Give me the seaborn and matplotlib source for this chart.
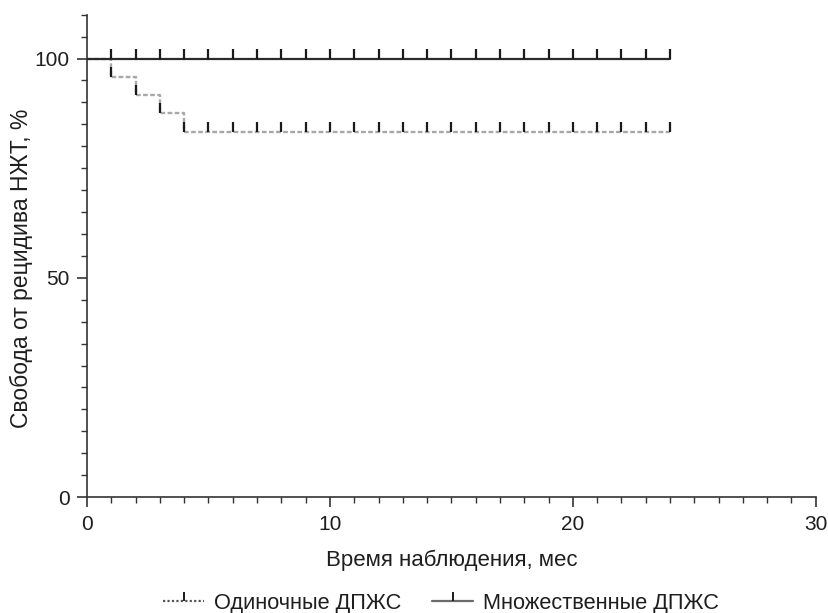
import numpy as np
import pandas as pd
import matplotlib
matplotlib.use("Agg")
import matplotlib.pyplot as plt
from matplotlib.lines import Line2D
from matplotlib.ticker import MultipleLocator
import seaborn as sns

# ---- data ----
single_time = [0, 1, 2, 3, 4, 24]
single_surv = [100, 95.83, 91.67, 87.5, 83.33, 83.33]
single_cens_time = list(range(1, 25))
single_cens_surv = [95.83, 91.67, 87.5] + [83.33] * 21

multi_time = [0, 24]
multi_surv = [100, 100]
multi_cens_time = list(range(1, 25))
multi_cens_surv = [100] * 24

label_single = "Одиночные ДПЖС"
label_multi = "Множественные ДПЖС"
xlabel = "Время наблюдения, мес"
ylabel = "Свобода от рецидива НЖТ, %"

sns.set_theme(style="ticks")
plt.rcParams["font.family"] = ["Liberation Sans", "DejaVu Sans"]

fig = plt.figure(figsize=(8.29, 6.13), dpi=100)
ax = fig.add_axes([0.105, 0.189, 0.879, 0.787])

solid_col = "#2b2b2b"
dash_col = "#a8a8a8"
text_col = "#1e1e1e"

df_m = pd.DataFrame({"t": multi_time, "s": multi_surv})
df_s = pd.DataFrame({"t": single_time, "s": single_surv})

sns.lineplot(data=df_m, x="t", y="s", ax=ax, drawstyle="steps-post",
             color=solid_col, lw=1.6, estimator=None, zorder=3)
sns.lineplot(data=df_s, x="t", y="s", ax=ax, drawstyle="steps-post",
             color=dash_col, lw=1.7, estimator=None, dashes=False,
             linestyle=(0, (2, 1.0)), zorder=2)

ax.plot(multi_cens_time, multi_cens_surv, linestyle="none", marker=2,
        markersize=7.5, markeredgewidth=1.6, color="#1a1a1a", zorder=4)
ax.plot(single_cens_time, single_cens_surv, linestyle="none", marker=2,
        markersize=7.5, markeredgewidth=1.6, color="#1a1a1a", zorder=4)

ax.set_xlim(0, 30)
ax.set_ylim(0, 110)
ax.set_xticks([0, 10, 20, 30])
ax.set_yticks([0, 50, 100])
ax.xaxis.set_minor_locator(MultipleLocator(1))
ax.yaxis.set_minor_locator(MultipleLocator(5))
ax.tick_params(which="major", length=7.5, width=1.2, color="#333333",
               labelsize=15, labelcolor=text_col, direction="out", pad=5)
ax.tick_params(which="minor", length=4.5, width=1.0, color="#333333", direction="out")
for side in ["top", "right"]:
    ax.spines[side].set_visible(False)
for side in ["left", "bottom"]:
    ax.spines[side].set_linewidth(1.2)
    ax.spines[side].set_color("#333333")

ax.set_xlabel(xlabel, fontsize=16, color=text_col, labelpad=12)
ax.set_ylabel(ylabel, fontsize=16.5, color=text_col)
ax.yaxis.set_label_coords(-0.074, 0.475)

handles = [
    Line2D([0], [0], color="#555555", lw=1.6, linestyle=(0, (1.0, 1.0)),
           marker=2, markersize=6.5, markeredgewidth=1.4,
           markeredgecolor="#1a1a1a"),
    Line2D([0], [0], color="#6a6a6a", lw=1.6, linestyle="-",
           marker=2, markersize=6.5, markeredgewidth=1.4,
           markeredgecolor="#1a1a1a"),
]
fig.legend(handles, [label_single, label_multi], loc="center",
           bbox_to_anchor=(0.532, 0.016), ncol=2, frameon=False,
           fontsize=15.7, handlelength=1.9, columnspacing=1.4,
           handletextpad=0.45, labelcolor=text_col)

fig.savefig("out.png", dpi=100)
